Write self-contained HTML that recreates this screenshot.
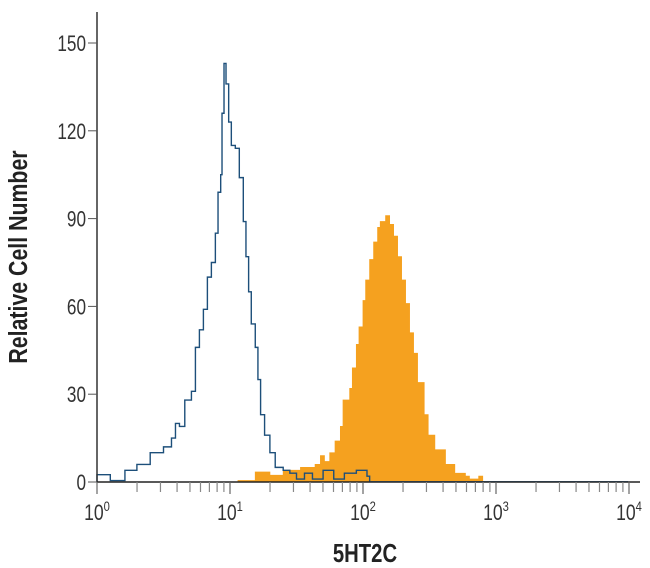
<!DOCTYPE html>
<html><head><meta charset="utf-8"><style>
body{margin:0;background:#fff;}
svg{display:block;font-family:"Liberation Sans",sans-serif;}
</style></head><body>
<svg id="chart" width="650" height="568" viewBox="0 0 650 568" xmlns="http://www.w3.org/2000/svg"></svg>
<script>
const blueLogX=[0,0.10,0.21,0.30,0.40,0.50,0.56,0.59,0.62,0.66,0.71,0.74,0.77,0.80,0.83,0.86,0.89,0.91,0.93,0.94,0.955,0.97,0.99,1.01,1.04,1.07,1.10,1.12,1.14,1.16,1.19,1.21,1.23,1.26,1.30,1.34,1.40,1.45,1.50,1.56,1.62,1.70,1.78,1.86,1.95,2.03,2.05];
const blueCounts=[2.5,0.5,4,6,10,12,15,20,19,28,31,46,52,59,70,75,85,99,105,126,143,136,123,115,114,104,89,77,65,54,46,35,23,16,10,5,4,3,1,3,1,4,1,3,4,2,0];
const orangeLogX=[1.06,1.19,1.30,1.40,1.53,1.64,1.68,1.71,1.75,1.79,1.83,1.85,1.90,1.92,1.95,1.97,2.00,2.02,2.05,2.08,2.11,2.13,2.17,2.20,2.23,2.26,2.29,2.32,2.35,2.38,2.41,2.46,2.49,2.54,2.62,2.69,2.77,2.80,2.87,2.90];
const orangeCounts=[0.5,3.4,2.3,4,5,6,9,7,10,14,19,28,32,39,47,53,62,69,76,82,87,89,91,88,84,77,69,61,51,44,34,23,16,11,6,3,2,1,2,0];
const yTicks=[0,30,60,90,120,150];
const xDecades=[0,1,2,3,4];
const xLabel="5HT2C", yLabel="Relative Cell Number";

const X0=97,DEC=133,Y0=482,YPX=(482-43)/150;
const xs=l=>X0+l*DEC, ys=v=>Y0-v*YPX;
const svg=document.getElementById('chart');
const NS="http://www.w3.org/2000/svg";
function mk(t,a,p){const e=document.createElementNS(NS,t);for(const k in a)e.setAttribute(k,a[k]);(p||svg).appendChild(e);return e;}
function stepPath(lx,cs){let d=`M${xs(lx[0])},${ys(0)} L${xs(lx[0])},${ys(cs[0])}`;
 for(let i=1;i<lx.length;i++){d+=` L${xs(lx[i])},${ys(cs[i-1])} L${xs(lx[i])},${ys(cs[i])}`;}return d;}
let od=stepPath(orangeLogX,orangeCounts)+` L${xs(orangeLogX[orangeLogX.length-1])},${ys(0)} Z`;
const o=mk('path',{d:od,fill:'#f5a11f',stroke:'#f5a11f','stroke-width':0.8});


const b=mk('path',{d:stepPath(blueLogX,blueCounts),fill:'none',stroke:'#1d4f7a','stroke-width':1.4});


const bl=mk('line',{x1:xs(2.05),y1:Y0-0.5,x2:628,y2:Y0-0.5,stroke:'#4a7fa8','stroke-width':1});


const ya=mk('line',{x1:X0,y1:12,x2:X0,y2:Y0,stroke:'#333','stroke-width':1.5});


const xa=mk('line',{x1:X0,y1:Y0,x2:640,y2:Y0,stroke:'#222','stroke-width':1.5});


yTicks.forEach(v=>{
 const t=mk('line',{x1:X0-9,y1:ys(v),x2:X0,y2:ys(v),stroke:'#555','stroke-width':1});
 
 
 const tx=mk('text',{x:X0-11,y:ys(v)+8,'text-anchor':'end','font-size':22,fill:'#333',transform:`translate(${X0-11},0) scale(0.78,1) translate(${-(X0-11)},0)`});
 tx.textContent=v;
 
 
});
xDecades.forEach(d=>{
 const t=mk('line',{x1:xs(d),y1:Y0,x2:xs(d),y2:Y0+12,stroke:'#666','stroke-width':1.2});
 
 
 if(d<4)for(let m=2;m<10;m++){
  const mt=mk('line',{x1:xs(d+Math.log10(m)),y1:Y0,x2:xs(d+Math.log10(m)),y2:Y0+10,stroke:'#888','stroke-width':1.2});
  
  
 }
 const tx=mk('text',{x:xs(d),y:Y0+38,'text-anchor':'middle','font-size':22,fill:'#333',transform:`translate(${xs(d)},0) scale(0.8,1) translate(${-xs(d)},0)`});
 
 
 tx.textContent='10';
 const s=mk('tspan',{dy:-9,'font-size':14},tx);s.textContent=d;
});
const xl=mk('text',{x:365,y:562,'text-anchor':'middle','font-size':26,'font-weight':'bold',fill:'#222',transform:'translate(365,0) scale(0.78,1) translate(-365,0)'});
xl.textContent=xLabel;


const yl=mk('text',{x:0,y:0,'text-anchor':'middle','font-size':26,'font-weight':'bold',fill:'#222',transform:'translate(27,257) rotate(-90) scale(0.82,1)'});
yl.textContent=yLabel;


</script>
</body></html>
